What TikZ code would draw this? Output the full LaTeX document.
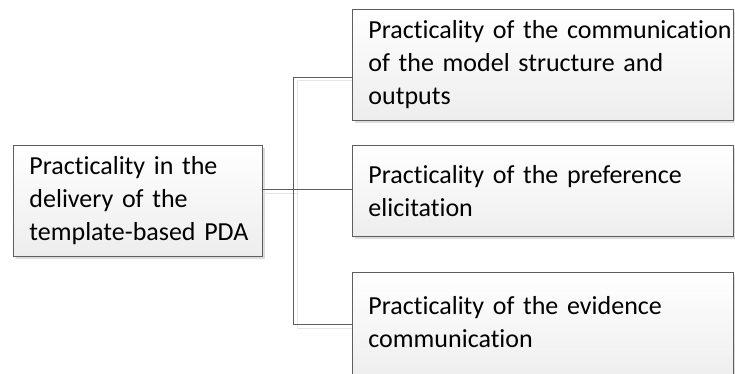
\documentclass[tikz,border=0pt]{standalone}
\usepackage{fontspec}
\setmainfont[Ligatures=NoCommon]{Carlito}
\usetikzlibrary{shadows}
\definecolor{edge}{HTML}{5E5E5E}
\definecolor{shade}{HTML}{DCDCDC}
\hfuzz=100pt
\begin{document}
\begin{tikzpicture}[x=1pt,y=-1pt,
  card/.style={draw=edge, line width=0.9pt, anchor=north west,
    top color=white, bottom color=black!7,
    drop shadow={shadow xshift=3pt, shadow yshift=-3pt, fill=shade, opacity=1},
    inner xsep=16pt, inner ysep=0pt, align=left,
    font=\fontsize{26}{33}\selectfont},
  link/.style={draw=edge, line width=0.9pt},
  linkshadow/.style={draw=shade!70, line width=1pt}]
\useasboundingbox (0,0) rectangle (735,374);

% root box
\node[card, minimum width=249pt, minimum height=111pt, text width=217pt]
  (root) at (13,145) {\mbox{Practicality in the}\\ \mbox{delivery of the}\\ \mbox{template-based PDA}};

% junction points of the bracket
\coordinate (jt) at (293,77);
\coordinate (jm) at (293,189.5);
\coordinate (jb) at (293,324);
\coordinate (st) at (297,81);
\coordinate (sm) at (297,193.5);
\coordinate (sb) at (297,328);

% shadows of the bracket
\draw[linkshadow] (sm -| root.east) -- (sm) ++(58,0);
\draw[linkshadow] (st) ++(58,0) -- (st) -- (sb) -- ++(58,0);

% child boxes
\node[card, minimum width=381pt, minimum height=111pt, text width=349pt]
  (top) at (352,9) {\mbox{Practicality of the communication}\\ \mbox{of the model structure and}\\ outputs};
\node[card, minimum width=381pt, minimum height=91pt, text width=349pt]
  (mid) at (352,145) {\mbox{Practicality of the preference}\\ elicitation};
% this box runs past the lower edge; the strut lifts its text
\node[card, minimum width=381pt, minimum height=111pt, text width=349pt]
  (bot) at (352,272) {\mbox{Practicality of the evidence}\\ communication\rule[-12pt]{0pt}{0pt}};

% bracket connecting root to children
\draw[link] (jm -| root.east) -- (jm -| mid.west);
\draw[link] (jt -| top.west) -- (jt) -- (jb) -- (jb -| bot.west);
\end{tikzpicture}
\end{document}
